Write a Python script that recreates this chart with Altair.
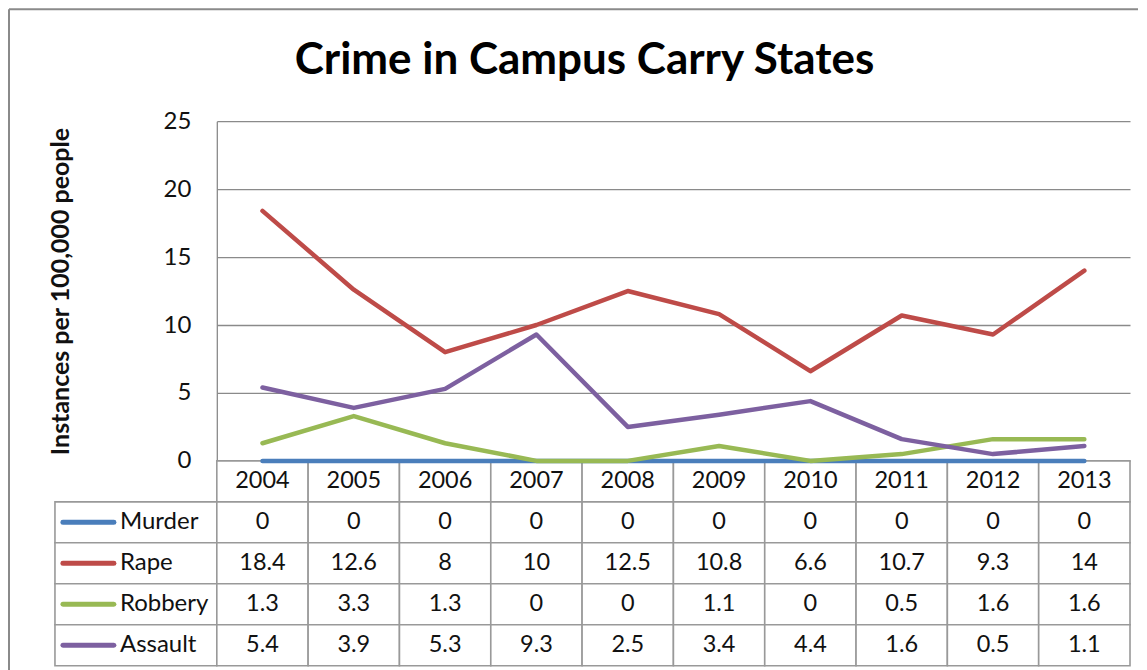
import altair as alt
import pandas as pd

years = ["2004", "2005", "2006", "2007", "2008", "2009", "2010", "2011", "2012", "2013"]
series = ["Murder", "Rape", "Robbery", "Assault"]
murder = [0, 0, 0, 0, 0, 0, 0, 0, 0, 0]
rape = [18.4, 12.6, 8, 10, 12.5, 10.8, 6.6, 10.7, 9.3, 14]
robbery = [1.3, 3.3, 1.3, 0, 0, 1.1, 0, 0.5, 1.6, 1.6]
assault = [5.4, 3.9, 5.3, 9.3, 2.5, 3.4, 4.4, 1.6, 0.5, 1.1]
colors = ["#4A7EBB", "#BE4B48", "#98B954", "#7D60A0"]
y_ticks = [0, 5, 10, 15, 20, 25]
title_text = "Crime in Campus Carry States"
y_title = "Instances per 100,000 people"
header_row = "header"

FONT = "Lato"
GRID = "#8a8a8a"
CELL = "#999999"
W, H = 914, 340
TABLE_H = 205

rows = []
for s, vals in zip(series, [murder, rape, robbery, assault]):
    for yr, v in zip(years, vals):
        rows.append({"series": s, "year": yr, "value": v, "label": f"{v:g}", "row": s})
df = pd.DataFrame(rows)

table_rows = [header_row] + series
header_df = pd.DataFrame({"year": years, "label": years, "row": [header_row] * len(years)})
cells_df = pd.concat([header_df, df[["year", "label", "row"]]], ignore_index=True)
labels_df = pd.DataFrame({"row": series, "series": series})
one = pd.DataFrame({"a": [0]})

color_scale = alt.Scale(domain=series, range=colors)

# ---- line plot ----
x_pt = alt.X("year:O", scale=alt.Scale(type="point", padding=0.5, domain=years), axis=None)
y_axis = alt.Axis(
    orient="left", values=y_ticks, grid=True, gridColor=GRID, gridWidth=1.3,
    domainColor=GRID, domainWidth=1.3, ticks=False, labelPadding=26,
    labelFont=FONT, labelFontSize=24, labelColor="#111",
    title=y_title, titleFont=FONT, titleFontSize=25, titleFontWeight="bold",
    titleColor="#111", titleX=-156, titleY=H / 2, titleAngle=-90,
    titleAlign="center", titleBaseline="middle",
)
y_enc = alt.Y("value:Q", scale=alt.Scale(domain=[0, 25], nice=False, zero=True), axis=y_axis)

line_layers = []
for s in series:
    line_layers.append(
        alt.Chart(df).transform_filter(alt.datum.series == s)
        .mark_line(strokeWidth=4.5, strokeJoin="round", strokeCap="round")
        .encode(x=x_pt, y=y_enc, color=alt.Color("series:N", scale=color_scale, legend=None))
    )
lines = alt.layer(*line_layers)

# ---- data table below the plot ----
x_scale_band = alt.Scale(type="band", domain=years, paddingInner=0, paddingOuter=0)
x_band = alt.X("year:N", scale=x_scale_band, axis=None)
x_band_c = alt.X("year:N", bandPosition=0.5, scale=x_scale_band, axis=None)
y_row_scale = alt.Scale(type="band", domain=table_rows, range=[H, H + TABLE_H], paddingInner=0, paddingOuter=0)
y_row = alt.Y("row:N", scale=y_row_scale, axis=None)
y_row_c = alt.Y("row:N", bandPosition=0.5, scale=y_row_scale, axis=None)

cell_rects = alt.Chart(cells_df).mark_rect(fill="white", stroke=CELL, strokeWidth=1.6).encode(x=x_band, y=y_row)
cell_text = alt.Chart(cells_df).mark_text(font=FONT, fontSize=23.5, color="#111").encode(
    x=x_band_c, y=y_row_c, text="label:N")
label_rects = alt.Chart(labels_df).mark_rect(fill="white", stroke=CELL, strokeWidth=1.6).encode(
    x=alt.value(-162), x2=alt.value(0), y=y_row)
legend_lines = alt.Chart(labels_df).mark_rule(strokeWidth=5, strokeCap="round").encode(
    x=alt.value(-154), x2=alt.value(-103), y=y_row_c,
    color=alt.Color("series:N", scale=color_scale, legend=None))
label_text = alt.Chart(labels_df).mark_text(font=FONT, fontSize=24, color="#111", align="left").encode(
    x=alt.value(-97), y=y_row_c, text="row:N")

table = alt.layer(label_rects, cell_rects, cell_text, legend_lines, label_text)

# ---- frame and title ----
frame_left = alt.Chart(one).mark_rule(color=GRID, strokeWidth=2).encode(
    x=alt.value(-208), y=alt.value(-112), y2=alt.value(552))
frame_top = alt.Chart(one).mark_rule(color=GRID, strokeWidth=2).encode(
    x=alt.value(-208), x2=alt.value(922), y=alt.value(-112))
title = alt.Chart(one).mark_text(
    text=title_text, font=FONT, fontSize=44, fontWeight="bold", color="#000",
    align="center", baseline="middle").encode(x=alt.value(368), y=alt.value(-60))
deco = alt.layer(frame_left, frame_top, title)

chart = alt.layer(deco, table, lines).resolve_scale(
    x="independent", y="independent"
).properties(width=W, height=H, padding=0, background="white").configure_view(strokeWidth=0)

chart.save("out.html", embed_options={"renderer": "svg", "actions": False})
